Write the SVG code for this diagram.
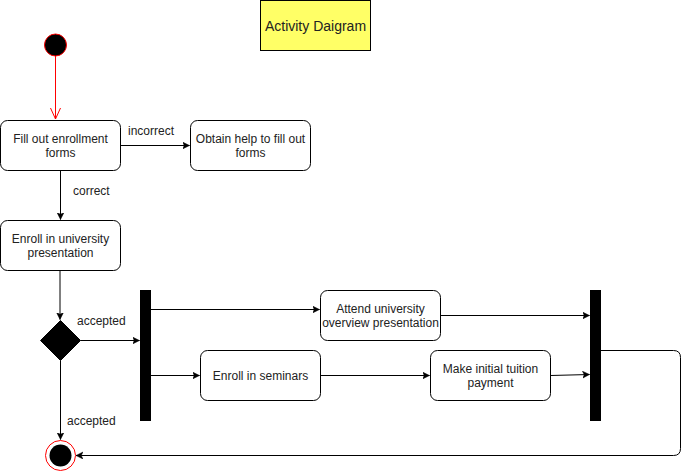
<svg xmlns="http://www.w3.org/2000/svg" width="689" height="471" viewBox="0 0 689 471">
<defs>
<style>
.box{fill:#fff;stroke:#000;stroke-width:1}
.t{font-family:"Liberation Sans",Arial,sans-serif;font-size:12px;fill:#222;text-anchor:middle}
.lbl{font-family:"Liberation Sans",Arial,sans-serif;font-size:12px;fill:#222}
.e{fill:none;stroke:#000;stroke-width:1}
.bar{fill:#000}
</style>
<marker id="arr" markerWidth="8" markerHeight="8" refX="7" refY="3.5" orient="auto" markerUnits="userSpaceOnUse">
<path d="M0,0 L7,3.5 L0,7 L1.8,3.5 Z" fill="#000" stroke="#000" stroke-width="0.5"/>
</marker>
<marker id="open" markerWidth="12" markerHeight="12" refX="11" refY="5" orient="auto" markerUnits="userSpaceOnUse">
<path d="M0,0 L11,5 L0,10" fill="none" stroke="#ff0000" stroke-width="1"/>
</marker>
</defs>
<rect width="689" height="471" fill="#fff"/>
<g id="title">
<rect x="260.5" y="0.5" width="110" height="50" fill="#ffff66" stroke="#000"/>
<text x="315.5" y="31" font-family="Liberation Sans, Arial, sans-serif" font-size="14" text-anchor="middle" fill="#222">Activity Daigram</text>
</g>
<g id="connectors">
<line x1="55.5" y1="56" x2="55.5" y2="119" stroke="#ff0000" stroke-width="1" marker-end="url(#open)"/>
<line class="e" x1="120.5" y1="145.5" x2="189.5" y2="145.5" marker-end="url(#arr)"/>
<line class="e" x1="60.5" y1="170.5" x2="60.5" y2="219.5" marker-end="url(#arr)"/>
<line x1="60" y1="270.5" x2="60" y2="319.5" stroke="#000" stroke-width="1" marker-end="url(#arr)"/>
<line class="e" x1="80.5" y1="340.5" x2="139.5" y2="340.5" marker-end="url(#arr)"/>
<line class="e" x1="60.5" y1="360.5" x2="60.5" y2="439.5" marker-end="url(#arr)"/>
<line class="e" x1="151" y1="309.5" x2="319.5" y2="309.5" marker-end="url(#arr)"/>
<line class="e" x1="151" y1="375.5" x2="199.5" y2="375.5" marker-end="url(#arr)"/>
<line class="e" x1="440.5" y1="315.5" x2="589.5" y2="315.5" marker-end="url(#arr)"/>
<line class="e" x1="320.5" y1="375.5" x2="429.5" y2="375.5" marker-end="url(#arr)"/>
<line class="e" x1="550.5" y1="375.5" x2="589.5" y2="374.5" marker-end="url(#arr)"/>
<path class="e" d="M601,350.5 H673.5 Q680.5,350.5 680.5,357.5 V448.5 Q680.5,455.5 673.5,455.5 H76" marker-end="url(#arr)"/>
</g>
<g id="start">
<circle cx="55.5" cy="45" r="11" fill="#000" stroke="#ff0000" stroke-width="1"/>
</g>
<g id="fill-out">
<rect class="box" x="0.5" y="120.5" width="120" height="50" rx="7"/>
<text class="t" x="60.5" y="143">Fill out enrollment</text>
<text class="t" x="60.5" y="157">forms</text>
</g>
<text class="lbl" x="128" y="135">incorrect</text>
<g id="obtain-help">
<rect class="box" x="190.5" y="120.5" width="120" height="50" rx="7"/>
<text class="t" x="250.5" y="143">Obtain help to fill out</text>
<text class="t" x="250.5" y="157">forms</text>
</g>
<text class="lbl" x="73" y="195">correct</text>
<g id="enroll-univ">
<rect class="box" x="0.5" y="220.5" width="120" height="50" rx="7"/>
<text class="t" x="60.5" y="243">Enroll in university</text>
<text class="t" x="60.5" y="257">presentation</text>
</g>
<g id="decision">
<path d="M60.5,320.5 L80.5,340.5 L60.5,360.5 L40.5,340.5 Z" fill="#000" stroke="#000"/>
</g>
<text class="lbl" x="77" y="325">accepted</text>
<text class="lbl" x="67" y="425">accepted</text>
<g id="fork">
<rect class="bar" x="140" y="290" width="11" height="131"/>
</g>
<g id="attend">
<rect class="box" x="320.5" y="290.5" width="120" height="50" rx="7"/>
<text class="t" x="380.5" y="313">Attend university</text>
<text class="t" x="380.5" y="327">overview presentation</text>
</g>
<g id="seminars">
<rect class="box" x="200.5" y="350.5" width="120" height="50" rx="7"/>
<text class="t" x="260.5" y="380">Enroll in seminars</text>
</g>
<g id="payment">
<rect class="box" x="430.5" y="350.5" width="120" height="50" rx="7"/>
<text class="t" x="490.5" y="373">Make initial tuition</text>
<text class="t" x="490.5" y="387">payment</text>
</g>
<g id="join">
<rect class="bar" x="590" y="290" width="11" height="131"/>
</g>
<g id="end">
<circle cx="60.5" cy="455.5" r="15" fill="#fff" stroke="#ff0000" stroke-width="1"/>
<circle cx="60.5" cy="455.5" r="11" fill="#000"/>
</g>
</svg>
